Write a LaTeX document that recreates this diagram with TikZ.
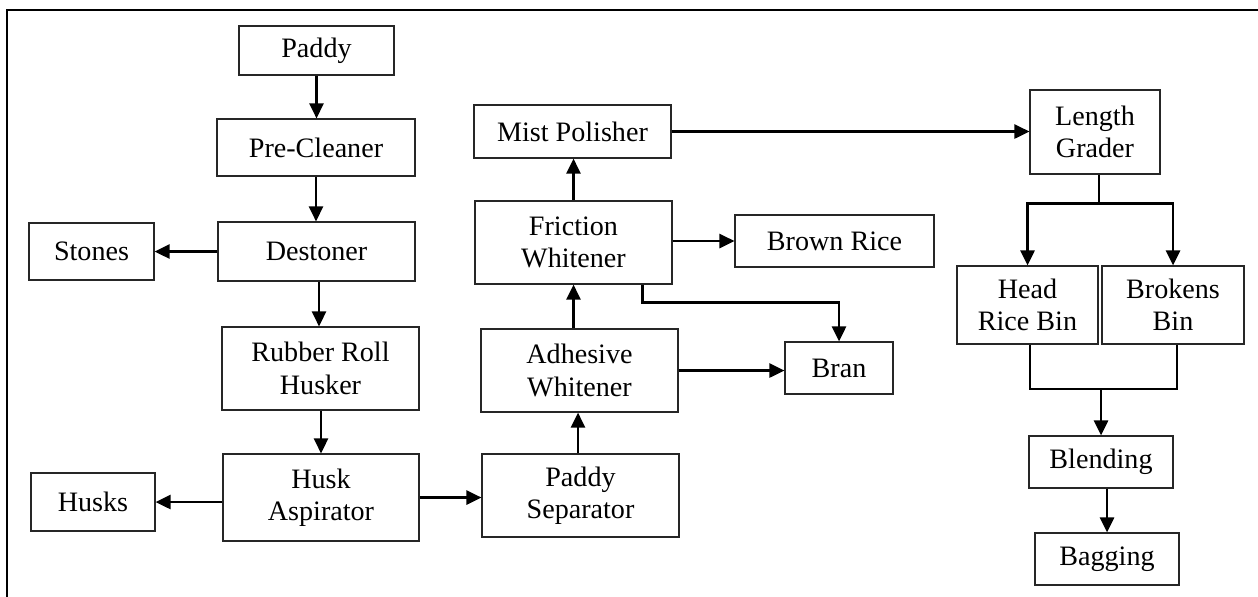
\documentclass[tikz,border=0pt]{standalone}
\usepackage{fontspec}
\setmainfont{Liberation Serif}
\usetikzlibrary{arrows.meta,calc}
\begin{document}
\begin{tikzpicture}[x=0.02cm,y=-0.02cm,
  box/.style={draw=black!85,line width=0.7pt,inner sep=0pt,align=center,
    font=\fontsize{16}{18.5}\selectfont},
  arr/.style={line width=1.4pt,-{Triangle[length=8.5pt,width=8pt]}},
  ln/.style={line width=1.4pt}]
\useasboundingbox (0,0) rectangle (1258,596);
\draw[line width=1.5pt] (7,600) -- (7,10) -- (1262,10);
% nodes
\node[box,minimum width=3.10cm,minimum height=0.98cm] (paddy) at (316.5,50.5) {Paddy};
\node[box,minimum width=3.96cm,minimum height=1.14cm] (pre) at (316,147.5) {Pre-Cleaner};
\node[box,minimum width=3.94cm,minimum height=1.18cm] (dest) at (316.5,251.5) {Destoner};
\node[box,minimum width=2.50cm,minimum height=1.14cm] (stones) at (91.5,251.5) {Stones};
\node[box,minimum width=3.94cm,minimum height=1.66cm] (rub) at (320.5,368.5) {Rubber Roll\\Husker};
\node[box,minimum width=3.92cm,minimum height=1.74cm] (ha) at (321,497.5) {Husk\\Aspirator};
\node[box,minimum width=2.48cm,minimum height=1.16cm] (husks) at (93,502) {Husks};
\node[box,minimum width=3.94cm,minimum height=1.06cm] (mist) at (572.5,131.5) {Mist Polisher};
\node[box,minimum width=3.94cm,minimum height=1.66cm] (fw) at (573.5,242.5) {Friction\\Whitener};
\node[box,minimum width=3.98cm,minimum height=1.04cm] (brown) at (834.5,241) {Brown Rice};
\node[box,minimum width=3.94cm,minimum height=1.66cm] (aw) at (579.5,370.5) {Adhesive\\Whitener};
\node[box,minimum width=3.94cm,minimum height=1.66cm] (ps) at (580.5,495.5) {Paddy\\Separator};
\node[box,minimum width=2.16cm,minimum height=1.04cm] (bran) at (839,368) {Bran};
\node[box,minimum width=2.60cm,minimum height=1.68cm] (lg) at (1095,132) {Length\\Grader};
\node[box,minimum width=2.82cm,minimum height=1.56cm] (head) at (1027.5,305) {Head\\Rice Bin};
\node[box,minimum width=2.84cm,minimum height=1.56cm] (brok) at (1173,305) {Brokens\\Bin};
\node[box,minimum width=2.88cm,minimum height=1.04cm] (blend) at (1101,462) {Blending};
\node[box,minimum width=2.88cm,minimum height=1.04cm] (bag) at (1107,559) {Bagging};
% connectors
\draw[arr] (paddy.south) -- (paddy.south |- pre.north);
\draw[arr] (pre.south) -- (pre.south |- dest.north);
\draw[arr] (dest.west) -- (dest.west -| stones.east);
\draw[arr] ([xshift=-0.03cm]rub.north |- dest.south) -- ([xshift=-0.03cm]rub.north);
\draw[arr] (ha.north |- rub.south) -- (ha.north);
\draw[arr] (ha.west |- husks.east) -- (husks.east);
\draw[arr] (ha.east) -- (ha.east -| ps.west);
\draw[arr] ([xshift=-0.05cm]ps.north) -- ([xshift=-0.05cm]ps.north |- aw.south);
\draw[arr] (fw.south |- aw.north) -- (fw.south);
\draw[arr] (fw.north) -- (fw.north |- mist.south);
\draw[arr] (fw.east |- brown.west) -- (brown.west);
\coordinate (fb) at ($(fw.south east)+(-30,0)$);
\draw[arr] (fb) -- ++(0,18) -| (bran.north);
\draw[arr] (aw.east) -- (aw.east -| bran.west);
\draw[arr] (mist.east) -- (mist.east -| lg.west);
\coordinate (split) at ($(lg.south)+(4,29)$);
\draw[ln] ($(lg.south)+(4,0)$) -- (split);
\draw[arr] (split) -| (head.north);
\draw[arr] (split) -| (brok.north);
\coordinate (merge) at (blend.north |- 0,389);
\draw[ln] ([xshift=0.05cm]head.south) |- (merge) -| ([xshift=0.08cm]brok.south);
\draw[arr] (merge) -- (blend.north);
\draw[arr] (bag.north |- blend.south) -- (bag.north);
\end{tikzpicture}
\end{document}
